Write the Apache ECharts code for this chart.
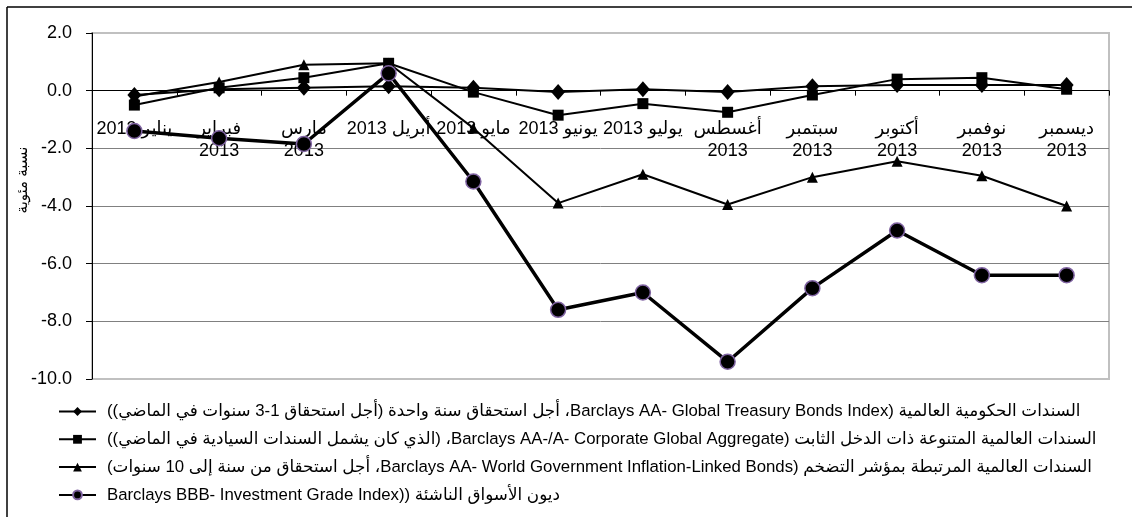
<!DOCTYPE html>
<html>
<head>
<meta charset="utf-8">
<script src="https://cdn.jsdelivr.net/npm/echarts@6/dist/echarts.min.js"></script>
<style>
html,body{margin:0;padding:0;background:#fff;}
#c{width:1132px;height:517px;}
</style>
</head>
<body>
<div id="c"></div>
<script>
const categories = ['يناير 2013','فبراير\n2013','مارس\n2013','أبريل 2013','مايو 2013','يونيو 2013','يوليو 2013','أغسطس\n2013','سبتمبر\n2013','أكتوبر\n2013','نوفمبر\n2013','ديسمبر\n2013'];
const seriesNames = [
  'السندات الحكومية العالمية (Barclays AA- Global Treasury Bonds Index، أجل استحقاق سنة واحدة (أجل استحقاق 1-3 سنوات في الماضي))',
  'السندات العالمية المتنوعة ذات الدخل الثابت (Barclays AA-/A- Corporate Global Aggregate، (الذي كان يشمل السندات السيادية في الماضي))',
  'السندات العالمية المرتبطة بمؤشر التضخم (Barclays AA- World Government Inflation-Linked Bonds، أجل استحقاق من سنة إلى 10 سنوات)',
  'ديون الأسواق الناشئة ((Barclays BBB- Investment Grade Index'
];
const treasury  = [-0.15, 0.05, 0.1, 0.15, 0.1, -0.05, 0.05, -0.05, 0.15, 0.2, 0.2, 0.2];
const corporate = [-0.5, 0.1, 0.45, 0.95, -0.05, -0.85, -0.45, -0.75, -0.15, 0.4, 0.45, 0.05];
const inflation = [-0.2, 0.3, 0.9, 0.95, -1.3, -3.9, -2.9, -3.95, -3.0, -2.45, -2.95, -4.0];
const emDebt    = [-1.4, -1.65, -1.85, 0.6, -3.15, -7.6, -7.0, -9.4, -6.85, -4.85, -6.4, -6.4];
const yTicks = [-10, -8, -6, -4, -2, 0, 2];
const yAxisTitle = 'نسبة مئوية';

const RLE = '\u202B', PDF = '\u202C';
const rtl = s => s.split('\n').map(l => RLE + l + PDF).join('\n');
const FONT = "'Liberation Sans', Arial, 'DejaVu Sans', sans-serif";

const GRID_TOP = 33, GRID_BOTTOM = 138, H = 517;
const plotH = H - GRID_TOP - GRID_BOTTOM;
const yMin = yTicks[0], yMax = yTicks[yTicks.length - 1];
// distance from grid bottom up to the zero line, used to lift the category axis onto y = 0
const zeroOffset = -plotH * (0 - yMin) / (yMax - yMin);

const chart = echarts.init(document.getElementById('c'), null, {renderer: 'canvas'});
const lineSeries = (name, data, symbol, size, width, extra) => Object.assign({
  name, type: 'line', data, symbol, symbolSize: size, showAllSymbol: true,
  lineStyle: {color: '#000', width},
  itemStyle: {color: '#000'},
  emphasis: {disabled: true}, animation: false, z: 2
}, extra || {});

chart.setOption({
  animation: false,
  backgroundColor: '#fff',
  textStyle: {fontFamily: FONT},
  grid: {left: 92, right: 23, top: GRID_TOP, bottom: GRID_BOTTOM, show: true, borderColor: '#c0c0c0', borderWidth: 2, backgroundColor: 'transparent'},
  legend: {
    orient: 'vertical', left: 53, top: 398, height: 115,
    itemWidth: 37, itemHeight: 11, itemGap: 10.8,
    data: seriesNames,
    formatter: n => rtl(n),
    textStyle: {fontSize: 16.8, lineHeight: 16, color: '#000', fontFamily: FONT, padding: [0, 0, 0, 6]},
    selectedMode: false
  },
  xAxis: {
    type: 'category', data: categories, boundaryGap: true, position: 'bottom',
    offset: zeroOffset,
    axisLine: {show: true, onZero: false, lineStyle: {color: '#000', width: 1}},
    axisTick: {show: true, interval: 0, alignWithLabel: false, length: 5, lineStyle: {color: '#000'}},
    axisLabel: {interval: 0, margin: 27, fontSize: 18, lineHeight: 22, color: '#000', fontFamily: FONT, formatter: v => rtl(v)},
    splitLine: {show: false}
  },
  yAxis: {
    type: 'value', min: yMin, max: yMax, interval: 2,
    axisLine: {show: true, lineStyle: {color: '#000', width: 1}},
    axisTick: {show: true, length: 6, lineStyle: {color: '#000'}},
    axisLabel: {margin: 20, fontSize: 18, color: '#000', fontFamily: FONT, formatter: v => v.toFixed(1)},
    splitLine: {show: true, showMinLine: false, showMaxLine: false, lineStyle: {color: '#808080', width: 1}}
  },
  graphic: [
    {type: 'line', shape: {x1: 7, y1: 7, x2: 1132, y2: 7}, style: {stroke: '#000', lineWidth: 1.5}, z: 10},
    {type: 'line', shape: {x1: 7, y1: 7, x2: 7, y2: 517}, style: {stroke: '#000', lineWidth: 1.5}, z: 10},
    {type: 'text', x: 23, y: 180, rotation: Math.PI / 2,
     style: {text: rtl(yAxisTitle), fontSize: 15, fill: '#000', fontFamily: FONT, align: 'center', verticalAlign: 'middle'}, z: 10}
  ],
  series: [
    lineSeries(seriesNames[0], treasury, 'diamond', [14, 16], 2),
    lineSeries(seriesNames[1], corporate, 'rect', 11, 2),
    lineSeries(seriesNames[2], inflation, 'triangle', 11, 2),
    lineSeries(seriesNames[3], emDebt, 'circle', 15, 3.5, {itemStyle: {color: '#000', borderColor: '#8064a2', borderWidth: 1.5}})
  ]
});
</script>
</body>
</html>
